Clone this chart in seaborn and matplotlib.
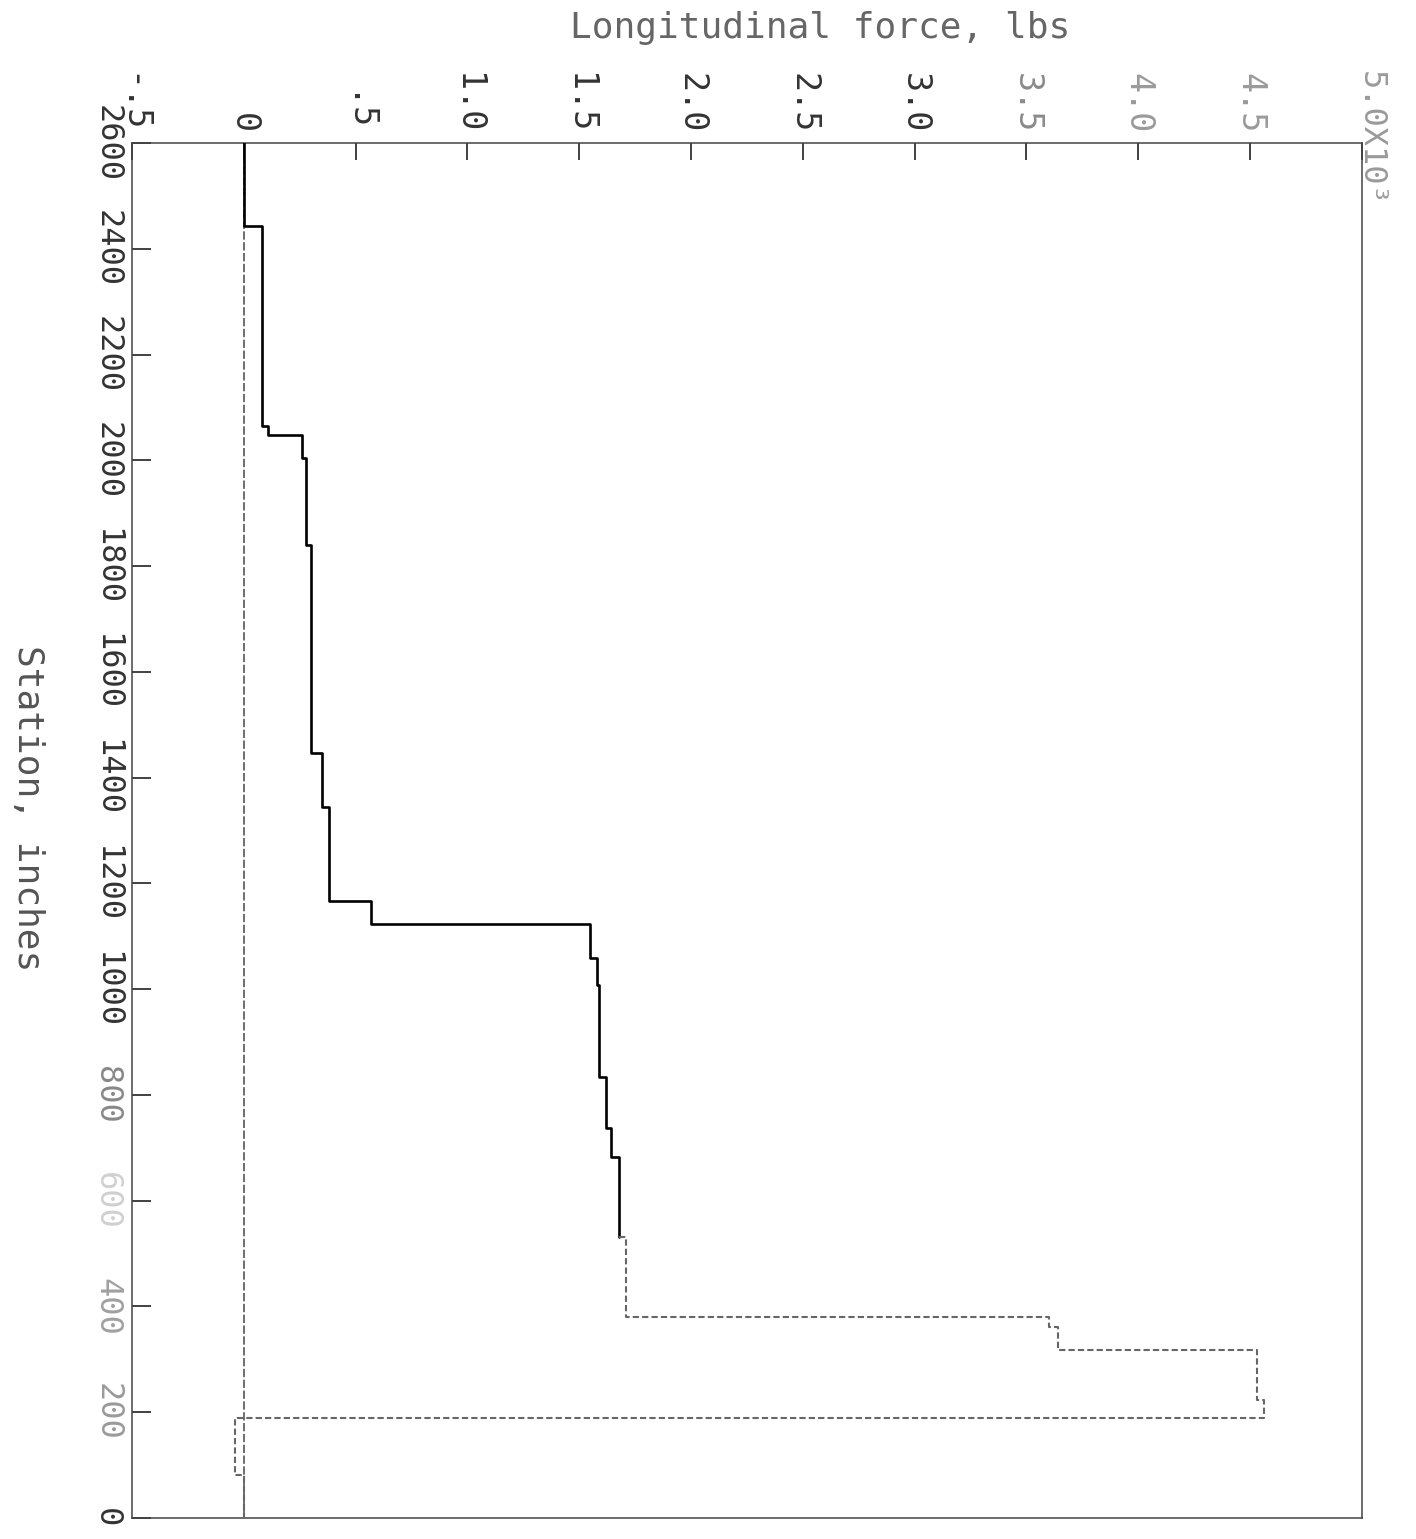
import matplotlib
matplotlib.use("Agg")
import matplotlib.pyplot as plt
import seaborn as sns
import pandas as pd

# Station breakpoints (inches) bounding each constant-force interval, top of fuselage to nose
station_breaks = [2600, 2443, 2065, 2048, 2005, 1839, 1446, 1345, 1166, 1124,
                  1058, 1007, 833, 737, 682, 531, 380, 361, 317, 223, 189, 81, 0]
# Longitudinal force on each interval (x10^3 lbs)
force_levels = [0.0, 0.08, 0.11, 0.26, 0.28, 0.30, 0.35, 0.38, 0.57, 1.55,
                1.58, 1.59, 1.62, 1.64, 1.68, 1.71, 3.60, 3.64, 4.53, 4.56, -0.04, 0.0]

force_ticks = [-0.5, 0.0, 0.5, 1.0, 1.5, 2.0, 2.5, 3.0, 3.5, 4.0, 4.5, 5.0]
force_tick_labels = ["-.5", "0", ".5", "1.0", "1.5", "2.0", "2.5", "3.0",
                     "3.5", "4.0", "4.5", ""]
station_ticks = [0, 200, 400, 600, 800, 1000, 1200, 1400, 1600, 1800, 2000, 2200, 2400, 2600]
station_tick_labels = ["0", "200", "400", "600", "800", "1000", "1200", "1400",
                       "1600", "1800", "2000", "2200", "2400", "2600"]

# Build the step outline: a vertical run per interval, joined by horizontal jumps
verts = []
for i, f in enumerate(force_levels):
    verts.append((f, station_breaks[i]))
    verts.append((f, station_breaks[i + 1]))
df = pd.DataFrame(verts, columns=["force", "station"])
split = 2 * force_levels.index(1.68) + 1
upper = df.iloc[:split + 1]
lower = df.iloc[split:]

sns.set_theme(style="white")
plt.rcParams["font.family"] = ["DejaVu Sans Mono", "DejaVu Sans"]

fig = plt.figure(figsize=(14.16, 15.39), dpi=100)
ax = fig.add_axes([0.0932, 0.01365, 0.8686, 0.8934])

ax.axvline(0.0, color="#555555", lw=1.2, ls=(0, (5, 1.5)), zorder=1)
sns.lineplot(data=upper, x="force", y="station", sort=False, estimator=None,
             color="black", lw=1.9, ax=ax, zorder=3)
sns.lineplot(data=lower, x="force", y="station", sort=False, estimator=None,
             color="#666666", lw=1.5, ls=(0, (3, 1.5)), ax=ax, zorder=3)

ax.set_xlim(-0.5, 5.0)
ax.set_ylim(0, 2600)
ax.set_xlabel("")
ax.set_ylabel("")

ax.xaxis.tick_top()
ax.set_xticks(force_ticks)
ax.set_xticklabels(force_tick_labels)
ax.set_yticks(station_ticks)
ax.set_yticklabels(station_tick_labels)
ax.tick_params(axis="x", which="major", top=True, bottom=False, direction="in",
               length=12, width=1.3, color="#333333", pad=7, labelsize=24,
               labelrotation=-90, labelcolor="#333333")
ax.tick_params(axis="y", which="major", left=True, right=False, direction="in",
               length=14, width=1.3, color="#333333", pad=7, labelsize=23,
               labelrotation=-90, labelcolor="#333333")
for lab in ax.get_yticklabels():
    lab.set_va("center")

faded_x = {"3.5": "#8a8a8a", "4.0": "#9a9a9a", "4.5": "#9a9a9a"}
for lab in ax.get_xticklabels():
    if lab.get_text() in faded_x:
        lab.set_color(faded_x[lab.get_text()])
faded_y = {"200": "#9a9a9a", "400": "#a0a0a0", "600": "#d0d0d0", "800": "#888888"}
for lab in ax.get_yticklabels():
    if lab.get_text() in faded_y:
        lab.set_color(faded_y[lab.get_text()])

for side in ["top", "bottom", "left", "right"]:
    ax.spines[side].set_color("#444444")
    ax.spines[side].set_linewidth(1.1)
    ax.spines[side].set_linestyle((0, (6, 1)))

# Scale note on the last force tick
ax.annotate("5.0X10³", xy=(5.0, 1.0), xycoords=("data", "axes fraction"),
            xytext=(6, 52), textcoords="offset points", rotation=-90,
            ha="center", va="top", fontsize=23, color="#9a9a9a")

fig.text(820 / 1416, 1 - 28 / 1539, "Longitudinal force, lbs", ha="center", va="center",
         fontsize=26, color="#666666")
fig.text(28 / 1416, 1 - 808 / 1539, "Station, inches", ha="center", va="center",
         rotation=-90, fontsize=26, color="#555555")

fig.savefig("out.png", dpi=100, facecolor="white")
